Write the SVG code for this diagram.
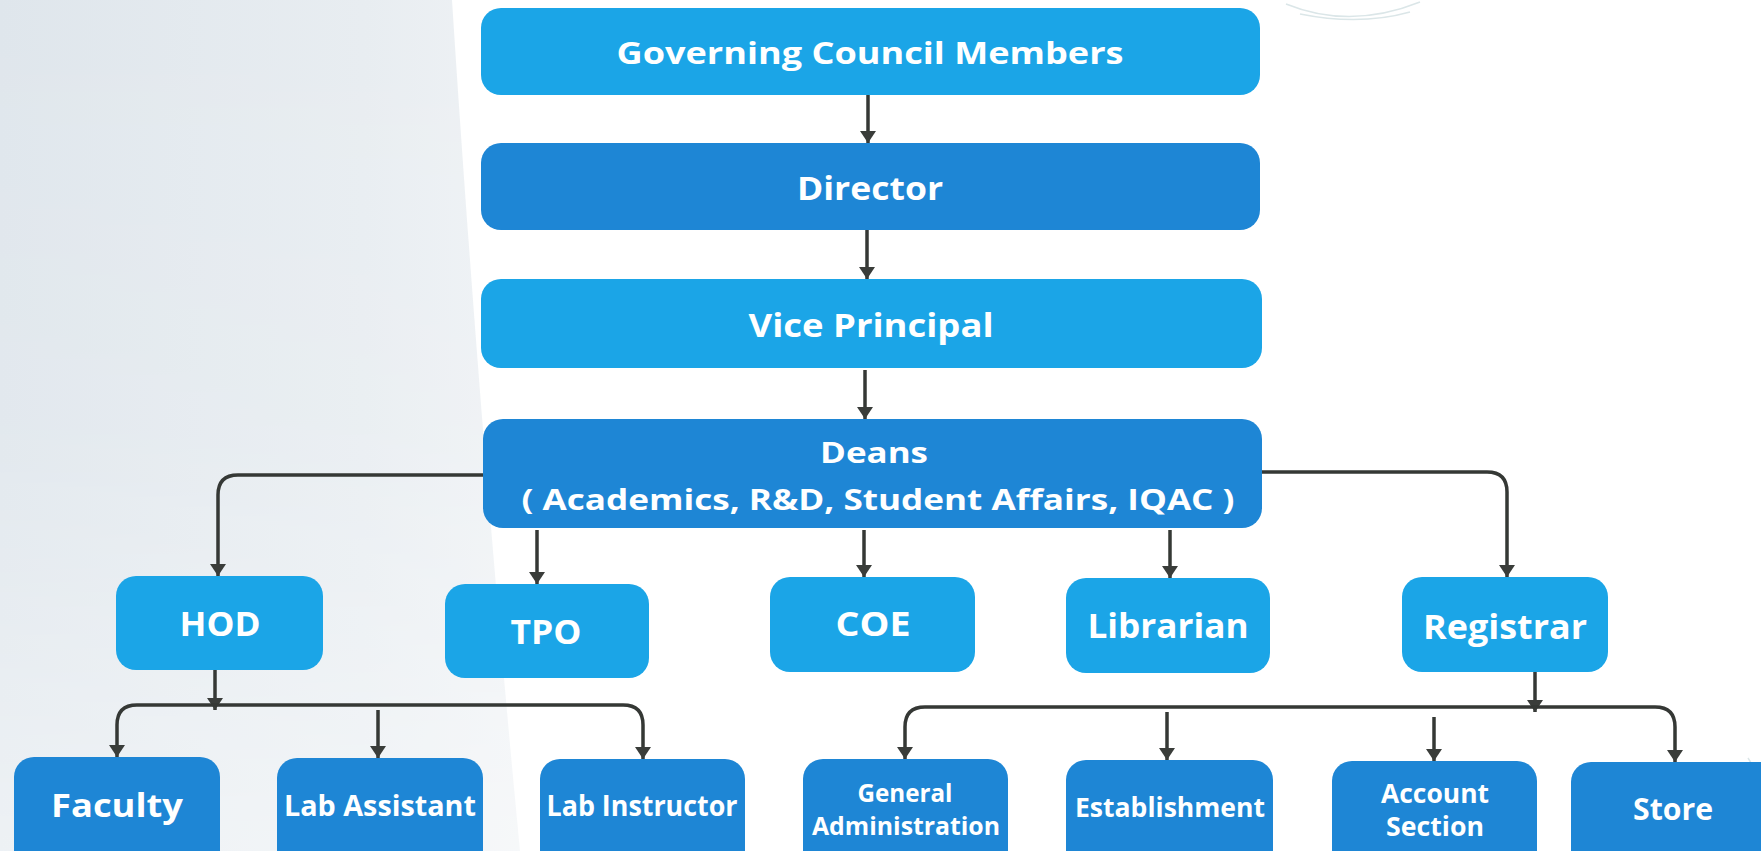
<svg xmlns="http://www.w3.org/2000/svg" width="1761" height="851" viewBox="0 0 1761 851">
  <defs>
    <linearGradient id="bgGrad" x1="0" y1="0" x2="1" y2="0">
      <stop offset="0" stop-color="#dfe6ec"/>
      <stop offset="0.7" stop-color="#e8edf1"/>
      <stop offset="1" stop-color="#eff2f5"/>
    </linearGradient>
    <linearGradient id="fadeGrad" x1="0" y1="0" x2="0" y2="1">
      <stop offset="0" stop-color="#ffffff" stop-opacity="1"/>
      <stop offset="0.5" stop-color="#ffffff" stop-opacity="0.9"/>
      <stop offset="1" stop-color="#ffffff" stop-opacity="0.55"/>
    </linearGradient>
    <mask id="bgMask" maskUnits="userSpaceOnUse" x="0" y="0" width="1761" height="851">
      <rect x="0" y="0" width="1761" height="851" fill="url(#fadeGrad)"/>
    </mask>
    <marker id="arrow" viewBox="0 0 12 16" refX="12" refY="8" markerWidth="12" markerHeight="16" markerUnits="userSpaceOnUse" orient="auto">
      <path d="M0,0 L12,8 L0,16 z" fill="#3a3d3a"/>
    </marker>
    <style>
      .light { fill: #1ba5e7; }
      .dark { fill: #1e86d5; }
      .lbl { font-family: "Open Sans", "Liberation Sans", sans-serif; font-weight: 700; fill: #ffffff; text-anchor: middle; }
      .conn { fill: none; stroke: #353835; stroke-width: 3.5; }
      .deco { fill: none; stroke: #dbe6e8; stroke-width: 1.5; }
    </style>
  </defs>

  <rect x="0" y="0" width="1761" height="851" fill="#ffffff"/>
  <path d="M0,0 H452 C468,250 492,560 520,851 H0 Z" fill="url(#bgGrad)" mask="url(#bgMask)"/>
  <g id="decor">
    <path class="deco" d="M1286,4 Q1350,30 1420,2"/>
    <path class="deco" d="M1300,14 Q1360,26 1410,12"/>
    <path class="deco" d="M1748,758 Q1756,770 1761,790"/>
  </g>

  <g id="connectors">
    <path class="conn" d="M868,95 V143" marker-end="url(#arrow)"/>
    <path class="conn" d="M867,230 V279" marker-end="url(#arrow)"/>
    <path class="conn" d="M865,370 V419" marker-end="url(#arrow)"/>
    <path class="conn" d="M483,475 H238 Q218,475 218,495 V576" marker-end="url(#arrow)"/>
    <path class="conn" d="M537,530 V584" marker-end="url(#arrow)"/>
    <path class="conn" d="M864,530 V577" marker-end="url(#arrow)"/>
    <path class="conn" d="M1170,530 V578" marker-end="url(#arrow)"/>
    <path class="conn" d="M1262,472 H1487 Q1507,472 1507,492 V577" marker-end="url(#arrow)"/>
    <path class="conn" d="M215,670 V710" marker-end="url(#arrow)"/>
    <path class="conn" d="M623,705 Q643,705 643,725 V759" marker-end="url(#arrow)"/>
    <path class="conn" d="M623,705 H137 Q117,705 117,725 V757" marker-end="url(#arrow)"/>
    <path class="conn" d="M378,710 V758" marker-end="url(#arrow)"/>
    <path class="conn" d="M1535,672 V712" marker-end="url(#arrow)"/>
    <path class="conn" d="M1655,707 Q1675,707 1675,727 V762" marker-end="url(#arrow)"/>
    <path class="conn" d="M1655,707 H925 Q905,707 905,727 V759" marker-end="url(#arrow)"/>
    <path class="conn" d="M1167,712 V760" marker-end="url(#arrow)"/>
    <path class="conn" d="M1434,717 V761" marker-end="url(#arrow)"/>
  </g>

  <g id="gov">
    <rect class="light" x="481" y="8" width="779" height="87" rx="20"/>
    <text class="lbl" x="870" y="64" font-size="31" textLength="507" lengthAdjust="spacingAndGlyphs">Governing Council Members</text>
  </g>
  <g id="director">
    <rect class="dark" x="481" y="143" width="779" height="87" rx="20"/>
    <text class="lbl" x="870" y="200" font-size="32" textLength="146" lengthAdjust="spacingAndGlyphs">Director</text>
  </g>
  <g id="vice-principal">
    <rect class="light" x="481" y="279" width="781" height="89" rx="20"/>
    <text class="lbl" x="871" y="337" font-size="32" textLength="245" lengthAdjust="spacingAndGlyphs">Vice Principal</text>
  </g>
  <g id="deans">
    <rect class="dark" x="483" y="419" width="779" height="109" rx="20"/>
    <text class="lbl" x="874" y="463" font-size="29" textLength="108" lengthAdjust="spacingAndGlyphs">Deans</text>
    <text class="lbl" x="878" y="510" font-size="29" textLength="713" lengthAdjust="spacingAndGlyphs">( Academics, R&amp;D, Student Affairs, IQAC )</text>
  </g>

  <g id="hod">
    <rect class="light" x="116" y="576" width="207" height="94" rx="20"/>
    <text class="lbl" x="220" y="636" font-size="34" textLength="81" lengthAdjust="spacingAndGlyphs">HOD</text>
  </g>
  <g id="tpo">
    <rect class="light" x="445" y="584" width="204" height="94" rx="20"/>
    <text class="lbl" x="546" y="644" font-size="34" textLength="71" lengthAdjust="spacingAndGlyphs">TPO</text>
  </g>
  <g id="coe">
    <rect class="light" x="770" y="577" width="205" height="95" rx="20"/>
    <text class="lbl" x="873" y="636" font-size="34" textLength="75" lengthAdjust="spacingAndGlyphs">COE</text>
  </g>
  <g id="librarian">
    <rect class="light" x="1066" y="578" width="204" height="95" rx="20"/>
    <text class="lbl" x="1168" y="638" font-size="34" textLength="161" lengthAdjust="spacingAndGlyphs">Librarian</text>
  </g>
  <g id="registrar">
    <rect class="light" x="1402" y="577" width="206" height="95" rx="20"/>
    <text class="lbl" x="1505" y="639" font-size="34" textLength="164" lengthAdjust="spacingAndGlyphs">Registrar</text>
  </g>

  <g id="faculty">
    <rect class="dark" x="14" y="757" width="206" height="120" rx="20"/>
    <text class="lbl" x="117" y="817" font-size="33" textLength="132" lengthAdjust="spacingAndGlyphs">Faculty</text>
  </g>
  <g id="lab-assistant">
    <rect class="dark" x="277" y="758" width="206" height="120" rx="20"/>
    <text class="lbl" x="380" y="816" font-size="29" textLength="192" lengthAdjust="spacingAndGlyphs">Lab Assistant</text>
  </g>
  <g id="lab-instructor">
    <rect class="dark" x="540" y="759" width="205" height="120" rx="20"/>
    <text class="lbl" x="642" y="816" font-size="29" textLength="191" lengthAdjust="spacingAndGlyphs">Lab Instructor</text>
  </g>
  <g id="general-administration">
    <rect class="dark" x="803" y="759" width="205" height="120" rx="20"/>
    <text class="lbl" x="905" y="802" font-size="25" textLength="95" lengthAdjust="spacingAndGlyphs">General</text>
    <text class="lbl" x="906" y="835" font-size="25" textLength="188" lengthAdjust="spacingAndGlyphs">Administration</text>
  </g>
  <g id="establishment">
    <rect class="dark" x="1066" y="760" width="207" height="120" rx="20"/>
    <text class="lbl" x="1170" y="817" font-size="26" textLength="190" lengthAdjust="spacingAndGlyphs">Establishment</text>
  </g>
  <g id="account-section">
    <rect class="dark" x="1332" y="761" width="205" height="120" rx="20"/>
    <text class="lbl" x="1435" y="803" font-size="26" textLength="108" lengthAdjust="spacingAndGlyphs">Account</text>
    <text class="lbl" x="1435" y="836" font-size="26" textLength="98" lengthAdjust="spacingAndGlyphs">Section</text>
  </g>
  <g id="store">
    <rect class="dark" x="1571" y="762" width="210" height="120" rx="20"/>
    <text class="lbl" x="1673" y="820" font-size="30" textLength="80" lengthAdjust="spacingAndGlyphs">Store</text>
  </g>
</svg>
